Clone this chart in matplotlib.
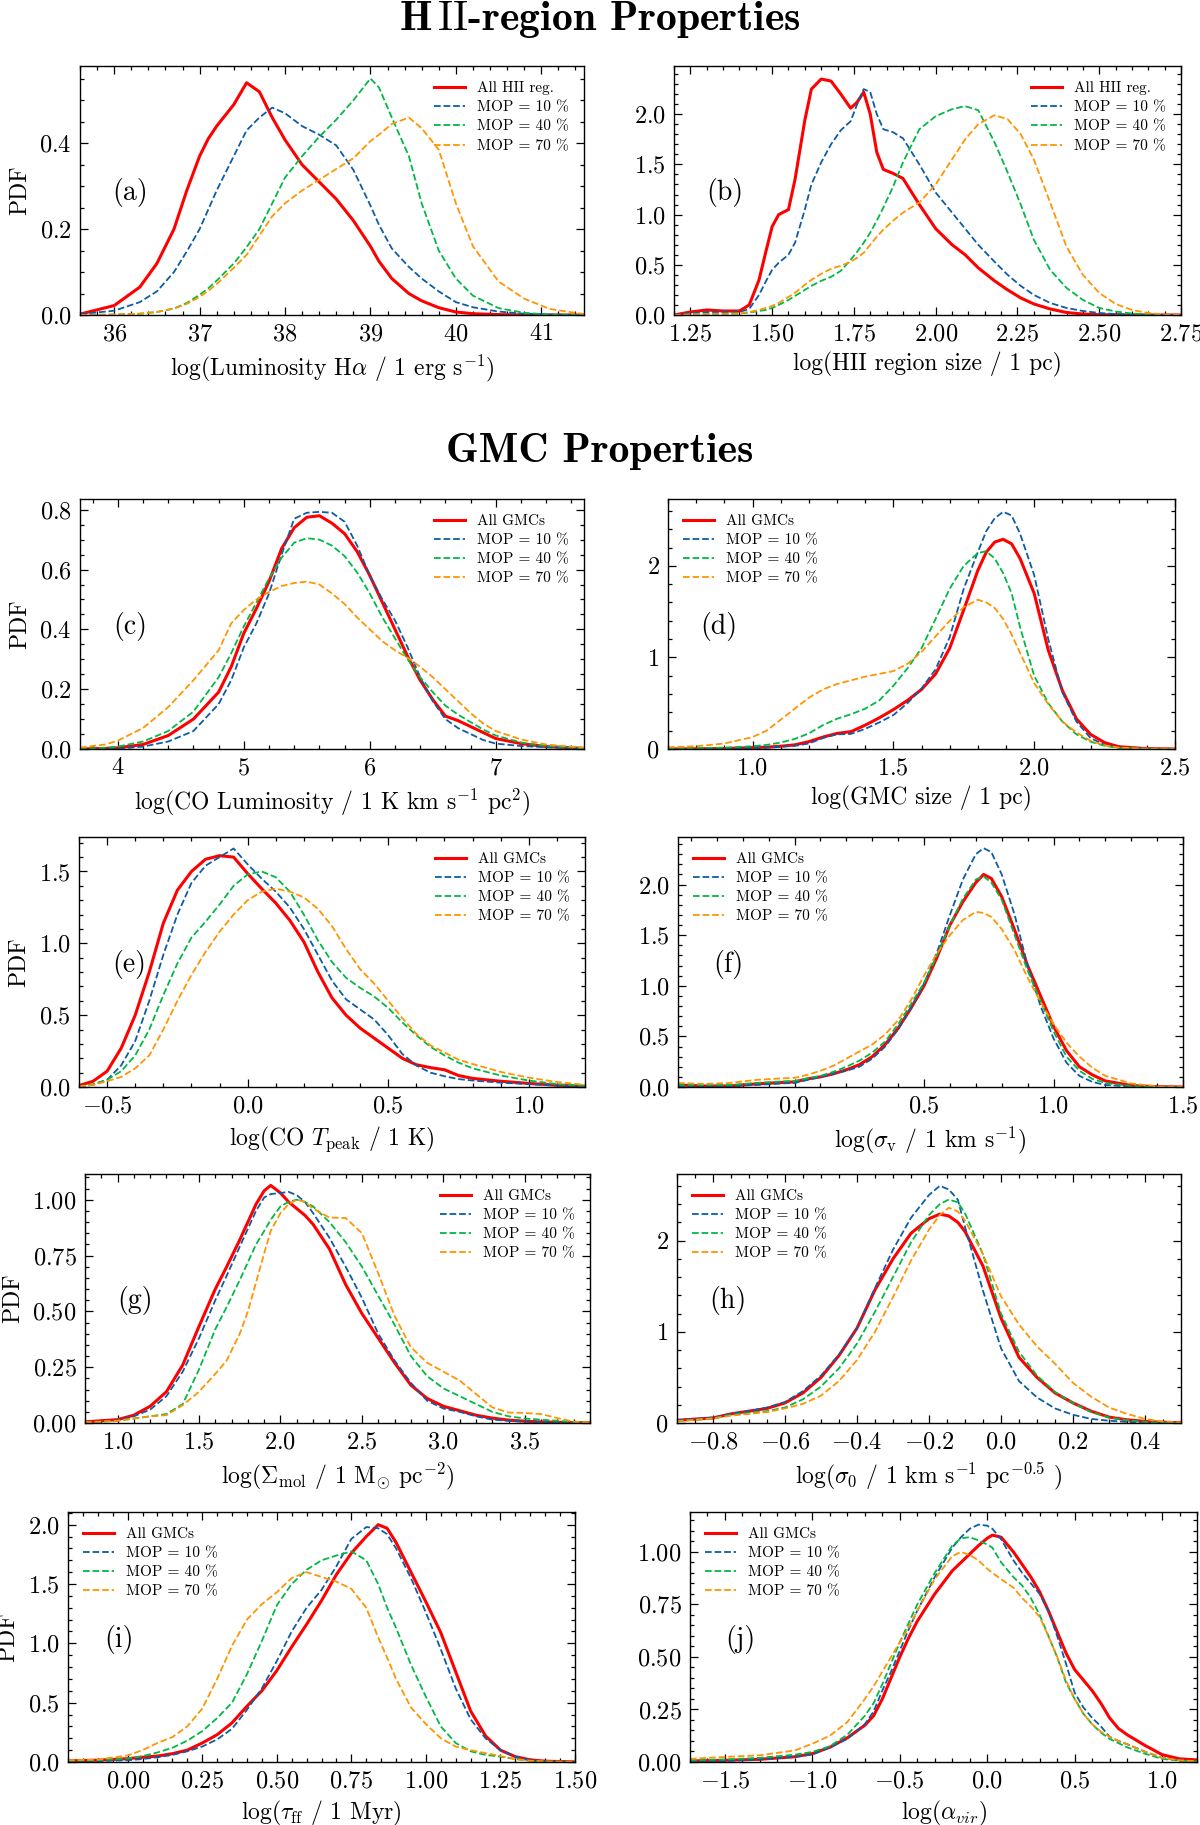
import matplotlib
matplotlib.use("Agg")
import matplotlib.pyplot as plt
from matplotlib.ticker import MultipleLocator, AutoMinorLocator

plt.rcParams['font.family'] = ['cmr10', 'DejaVu Serif']
plt.rcParams['mathtext.fontset'] = 'cm'
plt.rcParams['axes.formatter.use_mathtext'] = True
plt.rcParams['axes.unicode_minus'] = True

# ---------------- data ----------------
series_labels = ["MOP = 10 %", "MOP = 40 %", "MOP = 70 %"]

# (a) H-alpha luminosity
a_x = [35.6, 36.0, 36.3, 36.5, 36.7, 36.85, 37.0, 37.1, 37.2, 37.4, 37.55, 37.7, 37.85, 38.0, 38.2,
       38.4, 38.6, 38.8, 39.0, 39.1, 39.25, 39.45, 39.6, 39.8, 40.0, 40.2, 40.5, 40.8, 41.1, 41.5]
a_all = [0.002, 0.022, 0.065, 0.12, 0.2, 0.29, 0.37, 0.41, 0.44, 0.49, 0.541, 0.52, 0.46, 0.408,
         0.35, 0.31, 0.27, 0.22, 0.16, 0.125, 0.085, 0.05, 0.033, 0.017, 0.007, 0.003, 0.001, 0.0,
         0.0, 0.0]
a_10 = [0.002, 0.01, 0.03, 0.055, 0.1, 0.148, 0.2, 0.245, 0.29, 0.37, 0.43, 0.46, 0.483, 0.47, 0.44,
        0.42, 0.395, 0.338, 0.255, 0.21, 0.155, 0.112, 0.085, 0.055, 0.03, 0.018, 0.008, 0.003,
        0.001, 0.0]
a_40 = [0.0, 0.001, 0.003, 0.007, 0.015, 0.028, 0.047, 0.062, 0.08, 0.12, 0.158, 0.2, 0.26, 0.32,
        0.37, 0.415, 0.455, 0.5, 0.551, 0.53, 0.46, 0.37, 0.26, 0.15, 0.085, 0.045, 0.016, 0.005,
        0.001, 0.0]
a_70 = [0.0, 0.001, 0.003, 0.007, 0.015, 0.026, 0.042, 0.056, 0.072, 0.11, 0.14, 0.185, 0.23, 0.26,
        0.29, 0.315, 0.34, 0.365, 0.405, 0.42, 0.445, 0.46, 0.435, 0.385, 0.26, 0.16, 0.078, 0.038,
        0.014, 0.002]

# (b) HII region size
b_x = [1.2, 1.25, 1.3, 1.35, 1.4, 1.43, 1.46, 1.48, 1.5, 1.52, 1.55, 1.57, 1.6, 1.62, 1.65, 1.68,
       1.71, 1.74, 1.76, 1.78, 1.8, 1.82, 1.84, 1.87, 1.9, 1.95, 2.0, 2.05, 2.09, 2.13, 2.18, 2.22,
       2.26, 2.3, 2.35, 2.4, 2.45, 2.5, 2.55, 2.6, 2.65, 2.7, 2.75]
b_all = [0.0, 0.03, 0.05, 0.04, 0.04, 0.1, 0.35, 0.62, 0.88, 1.0, 1.05, 1.35, 1.94, 2.25, 2.35, 2.33,
         2.2, 2.06, 2.12, 2.22, 2.0, 1.62, 1.45, 1.41, 1.36, 1.1, 0.86, 0.7, 0.6, 0.47, 0.34, 0.25,
         0.17, 0.11, 0.06, 0.025, 0.01, 0.003, 0.001, 0.0, 0.0, 0.0, 0.0]
b_10 = [0.0, 0.02, 0.03, 0.03, 0.03, 0.06, 0.2, 0.33, 0.45, 0.52, 0.6, 0.72, 1.05, 1.3, 1.52, 1.7,
        1.84, 1.93, 2.1, 2.25, 2.22, 2.0, 1.85, 1.82, 1.76, 1.5, 1.22, 1.02, 0.86, 0.7, 0.53, 0.4,
        0.29, 0.2, 0.12, 0.07, 0.04, 0.02, 0.01, 0.005, 0.002, 0.0, 0.0]
b_40 = [0.0, 0.005, 0.01, 0.01, 0.015, 0.025, 0.04, 0.05, 0.07, 0.1, 0.15, 0.19, 0.25, 0.29, 0.34,
        0.38, 0.44, 0.55, 0.63, 0.72, 0.82, 0.94, 1.07, 1.28, 1.52, 1.85, 1.98, 2.05, 2.08, 2.04,
        1.72, 1.42, 1.1, 0.75, 0.45, 0.27, 0.15, 0.07, 0.035, 0.015, 0.005, 0.0, 0.0]
b_70 = [0.0, 0.005, 0.01, 0.012, 0.015, 0.03, 0.05, 0.07, 0.09, 0.12, 0.18, 0.22, 0.3, 0.35, 0.41,
        0.46, 0.49, 0.53, 0.57, 0.62, 0.7, 0.78, 0.85, 0.94, 1.02, 1.12, 1.3, 1.55, 1.75, 1.9, 1.99,
        1.95, 1.8, 1.55, 1.12, 0.68, 0.4, 0.22, 0.11, 0.05, 0.02, 0.005, 0.0]

# (c) CO luminosity
c_x = [3.7, 3.9, 4.0, 4.2, 4.4, 4.6, 4.8, 4.9, 5.0, 5.1, 5.2, 5.3, 5.4, 5.5, 5.6, 5.7, 5.8, 5.9,
       6.0, 6.1, 6.2, 6.3, 6.4, 6.5, 6.6, 6.7, 6.8, 6.9, 7.0, 7.2, 7.4, 7.7]
c_all = [0.0, 0.002, 0.004, 0.015, 0.045, 0.1, 0.19, 0.275, 0.387, 0.47, 0.56, 0.67, 0.74, 0.775,
         0.78, 0.755, 0.72, 0.66, 0.58, 0.49, 0.4, 0.31, 0.23, 0.165, 0.11, 0.095, 0.075, 0.055,
         0.035, 0.018, 0.008, 0.002]
c_10 = [0.0, 0.0, 0.001, 0.008, 0.025, 0.06, 0.15, 0.23, 0.34, 0.42, 0.52, 0.65, 0.77, 0.79, 0.793,
        0.79, 0.76, 0.68, 0.58, 0.5, 0.43, 0.34, 0.24, 0.16, 0.1, 0.07, 0.05, 0.03, 0.018, 0.01,
        0.006, 0.002]
c_40 = [0.0, 0.004, 0.008, 0.025, 0.06, 0.125, 0.24, 0.32, 0.41, 0.49, 0.57, 0.64, 0.69, 0.705, 0.7,
        0.68, 0.645, 0.59, 0.52, 0.44, 0.37, 0.3, 0.24, 0.19, 0.145, 0.115, 0.09, 0.065, 0.045,
        0.022, 0.01, 0.003]
c_70 = [0.005, 0.015, 0.028, 0.07, 0.14, 0.23, 0.33, 0.42, 0.465, 0.5, 0.525, 0.545, 0.555, 0.56,
        0.55, 0.52, 0.485, 0.44, 0.4, 0.36, 0.33, 0.305, 0.275, 0.24, 0.2, 0.16, 0.12, 0.085, 0.06,
        0.032, 0.015, 0.004]

# (d) GMC size
d_x = [0.7, 0.8, 0.9, 1.0, 1.05, 1.1, 1.15, 1.2, 1.25, 1.3, 1.35, 1.4, 1.45, 1.5, 1.55, 1.6, 1.65,
       1.7, 1.75, 1.8, 1.83, 1.86, 1.89, 1.92, 1.95, 2.0, 2.05, 2.1, 2.15, 2.2, 2.25, 2.3, 2.4, 2.5]
d_all = [0.0, 0.002, 0.005, 0.015, 0.02, 0.03, 0.045, 0.08, 0.13, 0.17, 0.19, 0.26, 0.34, 0.43,
         0.53, 0.65, 0.82, 1.1, 1.52, 1.95, 2.15, 2.26, 2.29, 2.24, 2.08, 1.7, 1.08, 0.64, 0.33,
         0.16, 0.07, 0.025, 0.004, 0.0]
d_10 = [0.0, 0.001, 0.004, 0.01, 0.015, 0.025, 0.035, 0.06, 0.12, 0.16, 0.165, 0.22, 0.29, 0.37,
        0.5, 0.66, 0.87, 1.22, 1.75, 2.15, 2.38, 2.52, 2.59, 2.55, 2.35, 1.9, 1.2, 0.62, 0.3, 0.12,
        0.045, 0.015, 0.002, 0.0]
d_40 = [0.005, 0.01, 0.015, 0.03, 0.045, 0.07, 0.11, 0.17, 0.26, 0.33, 0.38, 0.44, 0.53, 0.69,
        0.88, 1.1, 1.42, 1.75, 2.0, 2.14, 2.16, 2.08, 1.92, 1.7, 1.33, 0.8, 0.5, 0.3, 0.16, 0.08,
        0.035, 0.013, 0.002, 0.0]
d_70 = [0.02, 0.03, 0.06, 0.13, 0.2, 0.32, 0.44, 0.56, 0.65, 0.71, 0.75, 0.79, 0.82, 0.85, 0.93,
        1.06, 1.23, 1.4, 1.55, 1.63, 1.6, 1.54, 1.42, 1.25, 1.05, 0.72, 0.49, 0.3, 0.18, 0.09,
        0.04, 0.015, 0.003, 0.0]

# (e) CO peak temperature
e_x = [-0.6, -0.55, -0.5, -0.45, -0.4, -0.35, -0.3, -0.25, -0.2, -0.15, -0.1, -0.05, 0.0, 0.05,
       0.1, 0.15, 0.2, 0.25, 0.3, 0.35, 0.4, 0.45, 0.5, 0.55, 0.6, 0.65, 0.7, 0.75, 0.8, 0.9, 1.0,
       1.1, 1.2]
e_all = [0.01, 0.04, 0.11, 0.27, 0.5, 0.8, 1.14, 1.37, 1.5, 1.585, 1.61, 1.6, 1.485, 1.38, 1.28,
         1.16, 1.01, 0.8, 0.62, 0.5, 0.41, 0.34, 0.27, 0.2, 0.155, 0.135, 0.12, 0.08, 0.06, 0.04,
         0.025, 0.012, 0.005]
e_10 = [0.003, 0.015, 0.05, 0.15, 0.32, 0.6, 0.92, 1.2, 1.42, 1.54, 1.6, 1.66, 1.55, 1.45, 1.36,
        1.25, 1.1, 0.92, 0.74, 0.61, 0.54, 0.47, 0.36, 0.23, 0.15, 0.1, 0.075, 0.055, 0.045, 0.03,
        0.02, 0.01, 0.003]
e_40 = [0.005, 0.02, 0.05, 0.11, 0.22, 0.4, 0.64, 0.86, 1.04, 1.15, 1.27, 1.4, 1.48, 1.5, 1.46,
        1.36, 1.2, 1.02, 0.87, 0.76, 0.69, 0.63, 0.55, 0.45, 0.36, 0.28, 0.22, 0.17, 0.13, 0.08,
        0.045, 0.02, 0.008]
e_70 = [0.004, 0.015, 0.04, 0.07, 0.13, 0.22, 0.4, 0.6, 0.78, 0.94, 1.08, 1.2, 1.3, 1.36, 1.38,
        1.36, 1.32, 1.24, 1.12, 0.96, 0.82, 0.72, 0.6, 0.48, 0.37, 0.29, 0.24, 0.19, 0.16, 0.105,
        0.065, 0.035, 0.015]

# (f) velocity dispersion
f_x = [-0.45, -0.35, -0.25, -0.15, -0.05, 0.0, 0.05, 0.1, 0.15, 0.2, 0.25, 0.3, 0.35, 0.4, 0.45,
       0.5, 0.55, 0.6, 0.65, 0.7, 0.73, 0.76, 0.8, 0.85, 0.9, 0.95, 1.0, 1.05, 1.1, 1.15, 1.2, 1.3,
       1.4, 1.5]
f_all = [0.02, 0.01, 0.01, 0.03, 0.045, 0.05, 0.08, 0.1, 0.13, 0.17, 0.22, 0.3, 0.42, 0.58, 0.78,
         1.0, 1.28, 1.6, 1.83, 2.02, 2.1, 2.06, 1.88, 1.55, 1.2, 0.9, 0.6, 0.36, 0.2, 0.12, 0.06,
         0.015, 0.003, 0.0]
f_10 = [0.01, 0.01, 0.01, 0.02, 0.035, 0.04, 0.07, 0.1, 0.13, 0.16, 0.2, 0.28, 0.4, 0.57, 0.78,
        1.02, 1.33, 1.7, 2.05, 2.3, 2.36, 2.32, 2.1, 1.7, 1.2, 0.8, 0.48, 0.24, 0.11, 0.05, 0.02,
        0.005, 0.001, 0.0]
f_40 = [0.02, 0.02, 0.02, 0.04, 0.055, 0.06, 0.085, 0.11, 0.15, 0.2, 0.26, 0.34, 0.45, 0.62, 0.82,
        1.03, 1.3, 1.6, 1.86, 2.05, 2.08, 2.02, 1.85, 1.5, 1.15, 0.85, 0.55, 0.3, 0.16, 0.08, 0.04,
        0.01, 0.002, 0.0]
f_70 = [0.04, 0.03, 0.04, 0.07, 0.085, 0.09, 0.12, 0.16, 0.21, 0.28, 0.35, 0.42, 0.52, 0.66, 0.86,
        1.1, 1.32, 1.5, 1.65, 1.73, 1.72, 1.68, 1.56, 1.35, 1.08, 0.84, 0.62, 0.44, 0.3, 0.19, 0.11,
        0.035, 0.005, 0.0]

# (g) molecular surface density
g_x = [0.8, 0.9, 1.0, 1.1, 1.2, 1.3, 1.4, 1.5, 1.6, 1.67, 1.75, 1.8, 1.85, 1.9, 1.94, 2.0, 2.05,
       2.1, 2.15, 2.2, 2.3, 2.4, 2.5, 2.6, 2.7, 2.8, 2.9, 3.0, 3.1, 3.2, 3.3, 3.4, 3.5, 3.6, 3.7,
       3.8, 3.9]
g_all = [0.005, 0.01, 0.015, 0.035, 0.075, 0.14, 0.26, 0.433, 0.6, 0.7, 0.82, 0.9, 0.98, 1.04,
         1.064, 1.03, 0.99, 0.96, 0.93, 0.89, 0.78, 0.62, 0.49, 0.38, 0.27, 0.17, 0.11, 0.075,
         0.055, 0.035, 0.022, 0.013, 0.008, 0.005, 0.003, 0.002, 0.001]
g_10 = [0.003, 0.007, 0.012, 0.03, 0.06, 0.12, 0.23, 0.38, 0.55, 0.66, 0.79, 0.87, 0.95, 1.01,
        1.025, 1.03, 1.035, 1.02, 0.99, 0.94, 0.83, 0.7, 0.56, 0.4, 0.28, 0.18, 0.1, 0.065, 0.05,
        0.03, 0.015, 0.01, 0.006, 0.004, 0.002, 0.001, 0.0]
g_40 = [0.003, 0.006, 0.01, 0.02, 0.03, 0.04, 0.085, 0.24, 0.42, 0.52, 0.64, 0.72, 0.8, 0.86, 0.91,
        0.97, 0.99, 1.0, 0.99, 0.97, 0.9, 0.81, 0.7, 0.57, 0.44, 0.3, 0.21, 0.155, 0.12, 0.085,
        0.05, 0.03, 0.02, 0.015, 0.01, 0.005, 0.002]
g_70 = [0.003, 0.006, 0.01, 0.02, 0.03, 0.035, 0.08, 0.14, 0.22, 0.28, 0.4, 0.5, 0.63, 0.76, 0.86,
        0.94, 0.98, 1.0, 0.99, 0.96, 0.92, 0.918, 0.85, 0.67, 0.48, 0.34, 0.27, 0.23, 0.19, 0.13,
        0.07, 0.047, 0.045, 0.04, 0.022, 0.006, 0.002]

# (h) sigma_0
h_x = [-0.9, -0.8, -0.75, -0.7, -0.65, -0.6, -0.55, -0.5, -0.45, -0.4, -0.35, -0.3, -0.25, -0.2,
       -0.17, -0.145, -0.12, -0.1, -0.05, 0.0, 0.05, 0.1, 0.15, 0.2, 0.25, 0.3, 0.35, 0.4, 0.45, 0.5]
h_all = [0.03, 0.055, 0.1, 0.13, 0.16, 0.22, 0.33, 0.5, 0.74, 1.04, 1.46, 1.8, 2.08, 2.24, 2.29,
         2.27, 2.2, 2.1, 1.72, 1.15, 0.72, 0.5, 0.33, 0.22, 0.13, 0.065, 0.035, 0.018, 0.008, 0.003]
h_10 = [0.03, 0.06, 0.1, 0.13, 0.17, 0.23, 0.35, 0.52, 0.75, 1.04, 1.48, 1.9, 2.25, 2.5, 2.6, 2.56,
        2.45, 2.15, 1.45, 0.82, 0.46, 0.28, 0.16, 0.09, 0.045, 0.025, 0.012, 0.005, 0.002, 0.0]
h_40 = [0.02, 0.05, 0.09, 0.11, 0.13, 0.17, 0.26, 0.4, 0.6, 0.87, 1.22, 1.6, 1.98, 2.28, 2.4, 2.45,
        2.42, 2.3, 1.85, 1.2, 0.78, 0.52, 0.34, 0.22, 0.12, 0.06, 0.03, 0.012, 0.005, 0.002]
h_70 = [0.02, 0.05, 0.08, 0.1, 0.12, 0.16, 0.21, 0.3, 0.46, 0.69, 1.0, 1.38, 1.78, 2.12, 2.28, 2.36,
        2.32, 2.22, 1.85, 1.39, 1.08, 0.84, 0.65, 0.44, 0.29, 0.17, 0.1, 0.045, 0.015, 0.004]

# (i) free-fall time
i_x = [-0.2, -0.1, 0.0, 0.05, 0.1, 0.15, 0.2, 0.25, 0.3, 0.35, 0.4, 0.45, 0.5, 0.55, 0.6, 0.65,
       0.7, 0.75, 0.8, 0.84, 0.87, 0.9, 0.95, 1.0, 1.05, 1.1, 1.15, 1.2, 1.25, 1.3, 1.35, 1.4, 1.5]
i_all = [0.01, 0.015, 0.028, 0.04, 0.05, 0.07, 0.1, 0.16, 0.23, 0.33, 0.47, 0.6, 0.77, 0.97, 1.16,
         1.36, 1.58, 1.76, 1.9, 2.0, 1.97, 1.85, 1.6, 1.35, 1.09, 0.76, 0.43, 0.22, 0.1, 0.045,
         0.018, 0.007, 0.001]
i_10 = [0.005, 0.008, 0.015, 0.025, 0.04, 0.06, 0.09, 0.13, 0.19, 0.28, 0.44, 0.62, 0.85, 1.1, 1.3,
        1.45, 1.65, 1.88, 1.98, 1.97, 1.92, 1.8, 1.55, 1.26, 0.95, 0.62, 0.36, 0.2, 0.1, 0.045,
        0.015, 0.005, 0.001]
i_40 = [0.01, 0.015, 0.03, 0.05, 0.08, 0.12, 0.18, 0.26, 0.37, 0.5, 0.74, 1.02, 1.32, 1.5, 1.62,
        1.7, 1.74, 1.775, 1.7, 1.5, 1.3, 1.13, 0.82, 0.55, 0.3, 0.16, 0.09, 0.06, 0.045, 0.025,
        0.01, 0.004, 0.001]
i_70 = [0.015, 0.02, 0.055, 0.1, 0.16, 0.21, 0.3, 0.45, 0.7, 0.98, 1.2, 1.33, 1.43, 1.55, 1.6, 1.56,
        1.52, 1.46, 1.3, 1.05, 0.88, 0.7, 0.46, 0.32, 0.2, 0.13, 0.1, 0.075, 0.05, 0.025, 0.01,
        0.005, 0.001]

# (j) virial parameter
j_x = [-1.7, -1.5, -1.3, -1.1, -1.0, -0.9, -0.8, -0.7, -0.65, -0.6, -0.55, -0.5, -0.45, -0.4, -0.3,
       -0.2, -0.15, -0.1, -0.05, 0.0, 0.03, 0.08, 0.15, 0.2, 0.25, 0.3, 0.35, 0.4, 0.45, 0.5, 0.55,
       0.6, 0.65, 0.7, 0.75, 0.8, 0.9, 1.0, 1.1, 1.2]
j_all = [0.005, 0.008, 0.013, 0.025, 0.04, 0.07, 0.115, 0.175, 0.22, 0.3, 0.4, 0.5, 0.59, 0.67, 0.8,
         0.91, 0.95, 0.99, 1.03, 1.065, 1.08, 1.07, 1.0, 0.94, 0.88, 0.81, 0.72, 0.62, 0.52, 0.44,
         0.39, 0.34, 0.28, 0.21, 0.16, 0.13, 0.08, 0.035, 0.015, 0.01]
j_10 = [0.003, 0.005, 0.012, 0.025, 0.035, 0.07, 0.11, 0.18, 0.24, 0.34, 0.43, 0.53, 0.63, 0.72,
        0.88, 1.02, 1.07, 1.11, 1.13, 1.125, 1.11, 1.06, 0.96, 0.9, 0.85, 0.8, 0.72, 0.6, 0.47,
        0.33, 0.26, 0.21, 0.17, 0.12, 0.1, 0.085, 0.05, 0.02, 0.008, 0.004]
j_40 = [0.008, 0.012, 0.02, 0.035, 0.048, 0.075, 0.13, 0.22, 0.28, 0.37, 0.47, 0.57, 0.66, 0.75,
        0.9, 1.03, 1.065, 1.07, 1.055, 1.035, 1.02, 0.95, 0.88, 0.84, 0.78, 0.7, 0.6, 0.5, 0.38,
        0.3, 0.23, 0.18, 0.14, 0.11, 0.09, 0.07, 0.04, 0.015, 0.006, 0.003]
j_70 = [0.015, 0.024, 0.032, 0.055, 0.087, 0.125, 0.19, 0.3, 0.36, 0.43, 0.5, 0.57, 0.64, 0.72,
        0.87, 0.98, 1.0, 0.985, 0.96, 0.92, 0.9, 0.87, 0.83, 0.78, 0.74, 0.69, 0.6, 0.5, 0.39, 0.3,
        0.23, 0.18, 0.145, 0.12, 0.1, 0.085, 0.05, 0.02, 0.008, 0.004]

x_labels = [
    r"log(Luminosity H$\alpha$ / 1 erg s$^{-1}$)",
    r"log(HII region size / 1 pc)",
    r"log(CO Luminosity / 1 K km s$^{-1}$ pc$^{2}$)",
    r"log(GMC size / 1 pc)",
    r"log(CO $T_{\rm peak}$ / 1 K)",
    r"log($\sigma_{\rm v}$ / 1 km s$^{-1}$)",
    r"log($\Sigma_{\rm mol}$ / 1 M$_{\odot}$ pc$^{-2}$)",
    r"log($\sigma_0$ / 1 km s$^{-1}$ pc$^{-0.5}$ )",
    r"log($\tau_{\rm ff}$ / 1 Myr)",
    r"log($\alpha_{vir}$)",
]
panel_tags = ["(a)", "(b)", "(c)", "(d)", "(e)", "(f)", "(g)", "(h)", "(i)", "(j)"]

# ---------------- layout ----------------
W, H = 1200, 1825
# axes boxes in pixels: left, right, top, bottom
boxes = [(80, 584, 66, 315), (674, 1181, 66, 315),
         (80, 584, 499, 749), (668, 1175, 499, 749),
         (79, 585, 837, 1087), (678, 1183, 837, 1087),
         (85, 590, 1174, 1423), (677, 1181, 1174, 1423),
         (68, 575, 1512, 1762), (690, 1197, 1512, 1762)]

panels = [
    (a_x, a_all, a_10, a_40, a_70, (35.6, 41.5), (0, 0.58), 1.0, 0.2, "upper right", "All HII reg."),
    (b_x, b_all, b_10, b_40, b_70, (1.2, 2.75), (0, 2.48), 0.25, 0.5, "upper right", "All HII reg."),
    (c_x, c_all, c_10, c_40, c_70, (3.7, 7.7), (0, 0.836), 1.0, 0.2, "upper right", "All GMCs"),
    (d_x, d_all, d_10, d_40, d_70, (0.7, 2.5), (0, 2.73), 0.5, 1.0, "upper left", "All GMCs"),
    (e_x, e_all, e_10, e_40, e_70, (-0.6, 1.2), (0, 1.74), 0.5, 0.5, "upper right", "All GMCs"),
    (f_x, f_all, f_10, f_40, f_70, (-0.45, 1.5), (0, 2.47), 0.5, 0.5, "upper left", "All GMCs"),
    (g_x, g_all, g_10, g_40, g_70, (0.8, 3.9), (0, 1.115), 0.5, 0.25, "upper right", "All GMCs"),
    (h_x, h_all, h_10, h_40, h_70, (-0.9, 0.5), (0, 2.73), 0.2, 1.0, "upper left", "All GMCs"),
    (i_x, i_all, i_10, i_40, i_70, (-0.2, 1.5), (0, 2.107), 0.25, 0.5, "upper left", "All GMCs"),
    (j_x, j_all, j_10, j_40, j_70, (-1.7, 1.2), (0, 1.19), 0.5, 0.25, "upper left", "All GMCs"),
]

colors = ["#0C5DA5", "#00B945", "#FF9500"]

fig = plt.figure(figsize=(W / 100, H / 100), dpi=100)

for k, (box, p) in enumerate(zip(boxes, panels)):
    l, r, t, b = box
    ax = fig.add_axes([l / W, 1 - b / H, (r - l) / W, (b - t) / H])
    x, y_all, y10, y40, y70, xlim, ylim, xmaj, ymaj, loc, lab_all = p
    ax.plot(x, y_all, color="red", lw=2.2, label=lab_all)
    for yy, c, lab in zip([y10, y40, y70], colors, series_labels):
        ax.plot(x, yy, color=c, lw=1.3, ls="--", label=lab)
    ax.set_xlim(*xlim)
    ax.set_ylim(*ylim)
    ax.xaxis.set_major_locator(MultipleLocator(xmaj))
    ax.yaxis.set_major_locator(MultipleLocator(ymaj))
    ax.xaxis.set_minor_locator(AutoMinorLocator())
    ax.yaxis.set_minor_locator(AutoMinorLocator())
    ax.tick_params(which="both", direction="in", top=True, right=True, labelsize=17.5, width=0.9)
    ax.tick_params(which="major", length=5.5, pad=6)
    ax.tick_params(which="minor", length=2.8)
    for s in ax.spines.values():
        s.set_linewidth(1.0)
    ax.set_xlabel(x_labels[k], fontsize=17, labelpad=5)
    if k % 2 == 0:
        ax.set_ylabel("PDF", fontsize=17, labelpad=6)
    ax.text(0.1, 0.49, panel_tags[k], transform=ax.transAxes, fontsize=20,
            ha="center", va="center")
    ax.legend(loc=loc, frameon=False, fontsize=11, handlelength=2.0, labelspacing=0.36,
              borderaxespad=0.6)

fig.text(0.5, 1 - 19 / H, r"H$\,\mathrm{II}$-region Properties", ha="center", va="center",
         fontsize=30, family="cmb10")
fig.text(0.5, 1 - 452 / H, "GMC Properties", ha="center", va="center",
         fontsize=30, family="cmb10")

fig.savefig("out.png", dpi=100)
